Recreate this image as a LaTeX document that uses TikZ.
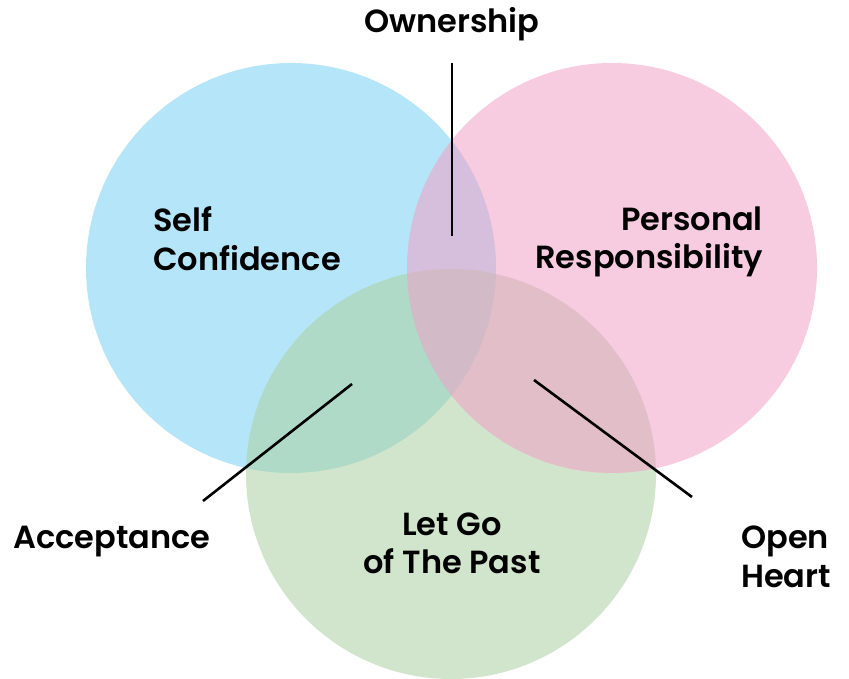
\documentclass[tikz,border=0pt]{standalone}
\usepackage{fontspec}
\setmainfont{Poppins}[UprightFont=* SemiBold]
\begin{document}
\begin{tikzpicture}[x=1pt,y=-1pt,
  ring/.style={circle,minimum size=410pt,inner sep=0pt,fill opacity=0.55},
  lbl/.style={font=\fontsize{32}{38.5}\selectfont,inner sep=0pt},
  pointer/.style={line width=2.6pt,black}]
\definecolor{cblue}{RGB}{120,208,242}
\definecolor{cpink}{RGB}{240,160,198}
\definecolor{cgreen}{RGB}{171,208,162}
\useasboundingbox (0,0) rectangle (849,679);
% three overlapping circles (pink on top)
\node[ring,fill=cblue] (blue) at (291,268) {};
\node[ring,fill=cgreen] (green) at (451,474) {};
\node[ring,fill=cpink] (pink) at (612,268) {};
% circle labels
\node[lbl,align=left,anchor=west] (self) at (153,238.5) {Self\\Confidence};
\node[lbl,align=right,anchor=east] (pers) at (763,242) {Personal\\Responsibility};
\node[lbl,align=center] (past) at (452,543.5) {Let Go\\of The Past};
% overlap labels
\node[lbl,anchor=center] (own) at (452,24) {Ownership};
\node[lbl,anchor=west] (acc) at (13,542) {Acceptance};
\node[lbl,align=left,anchor=west] (open) at (741,557) {Open\\Heart};
% pointer lines
\coordinate (ownA) at (452,63);
\coordinate (ownB) at (452,236);
\coordinate (accA) at (352,384);
\coordinate (accB) at (203,501);
\coordinate (opA) at (534,380);
\coordinate (opB) at (692,497);
\draw[pointer] (ownA) -- (ownB);
\draw[pointer] (accA) -- (accB);
\draw[pointer] (opA) -- (opB);
\end{tikzpicture}
\end{document}
